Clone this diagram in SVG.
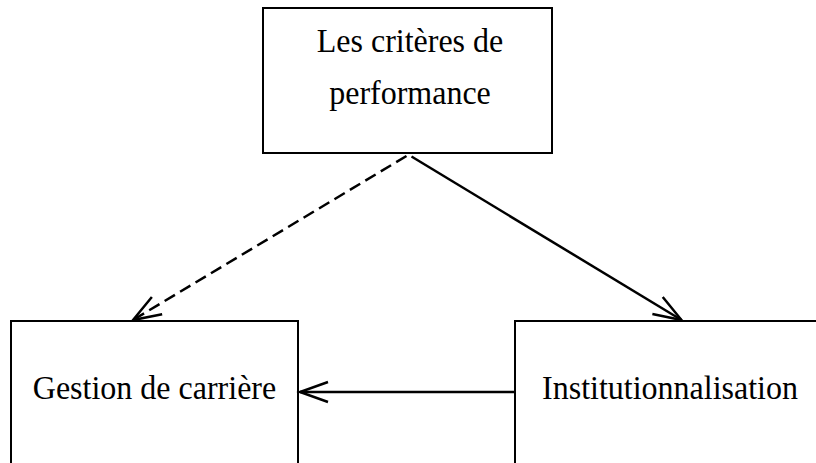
<svg xmlns="http://www.w3.org/2000/svg" width="816" height="463" viewBox="0 0 816 463">
  <style>
    .box { fill: #ffffff; stroke: #000000; stroke-width: 2; }
    .lbl { font-family: "Liberation Serif", "Times New Roman", serif; font-size: 32px; fill: #000000; text-anchor: middle; }
    .conn { fill: none; stroke: #000000; stroke-width: 2.5; }
    .dash { stroke-dasharray: 12 6; }
  </style>
  <defs>
    <marker id="open" markerUnits="userSpaceOnUse" viewBox="-30 -12 32 24" refX="0" refY="0" markerWidth="32" markerHeight="24" orient="auto" overflow="visible">
      <path d="M-28,-10 L0,0 L-28,10" fill="none" stroke="#000000" stroke-width="2.5" stroke-dasharray="none"/>
    </marker>
  </defs>
  <rect width="816" height="463" fill="#ffffff"/>
  <g id="node-criteres">
    <rect class="box" x="263" y="8" width="289" height="145"/>
    <text class="lbl" transform="translate(410 52) scale(1 1.08)">Les critères de</text>
    <text class="lbl" transform="translate(410 104) scale(1 1.08)">performance</text>
  </g>
  <g id="node-gestion">
    <rect class="box" x="11" y="321" width="287" height="160"/>
    <text class="lbl" transform="translate(154.5 399) scale(1 1.08)">Gestion de carrière</text>
  </g>
  <g id="node-institution">
    <rect class="box" x="515" y="321" width="320" height="160"/>
    <text class="lbl" transform="translate(670 399) scale(1 1.08)">Institutionnalisation</text>
  </g>
  <g id="connectors">
    <line class="conn dash" x1="406.5" y1="156" x2="133" y2="320" marker-end="url(#open)"/>
    <line class="conn" x1="411.5" y1="156.5" x2="681.5" y2="320" marker-end="url(#open)"/>
    <line class="conn" x1="515" y1="392" x2="300" y2="392" marker-end="url(#open)"/>
  </g>
</svg>
